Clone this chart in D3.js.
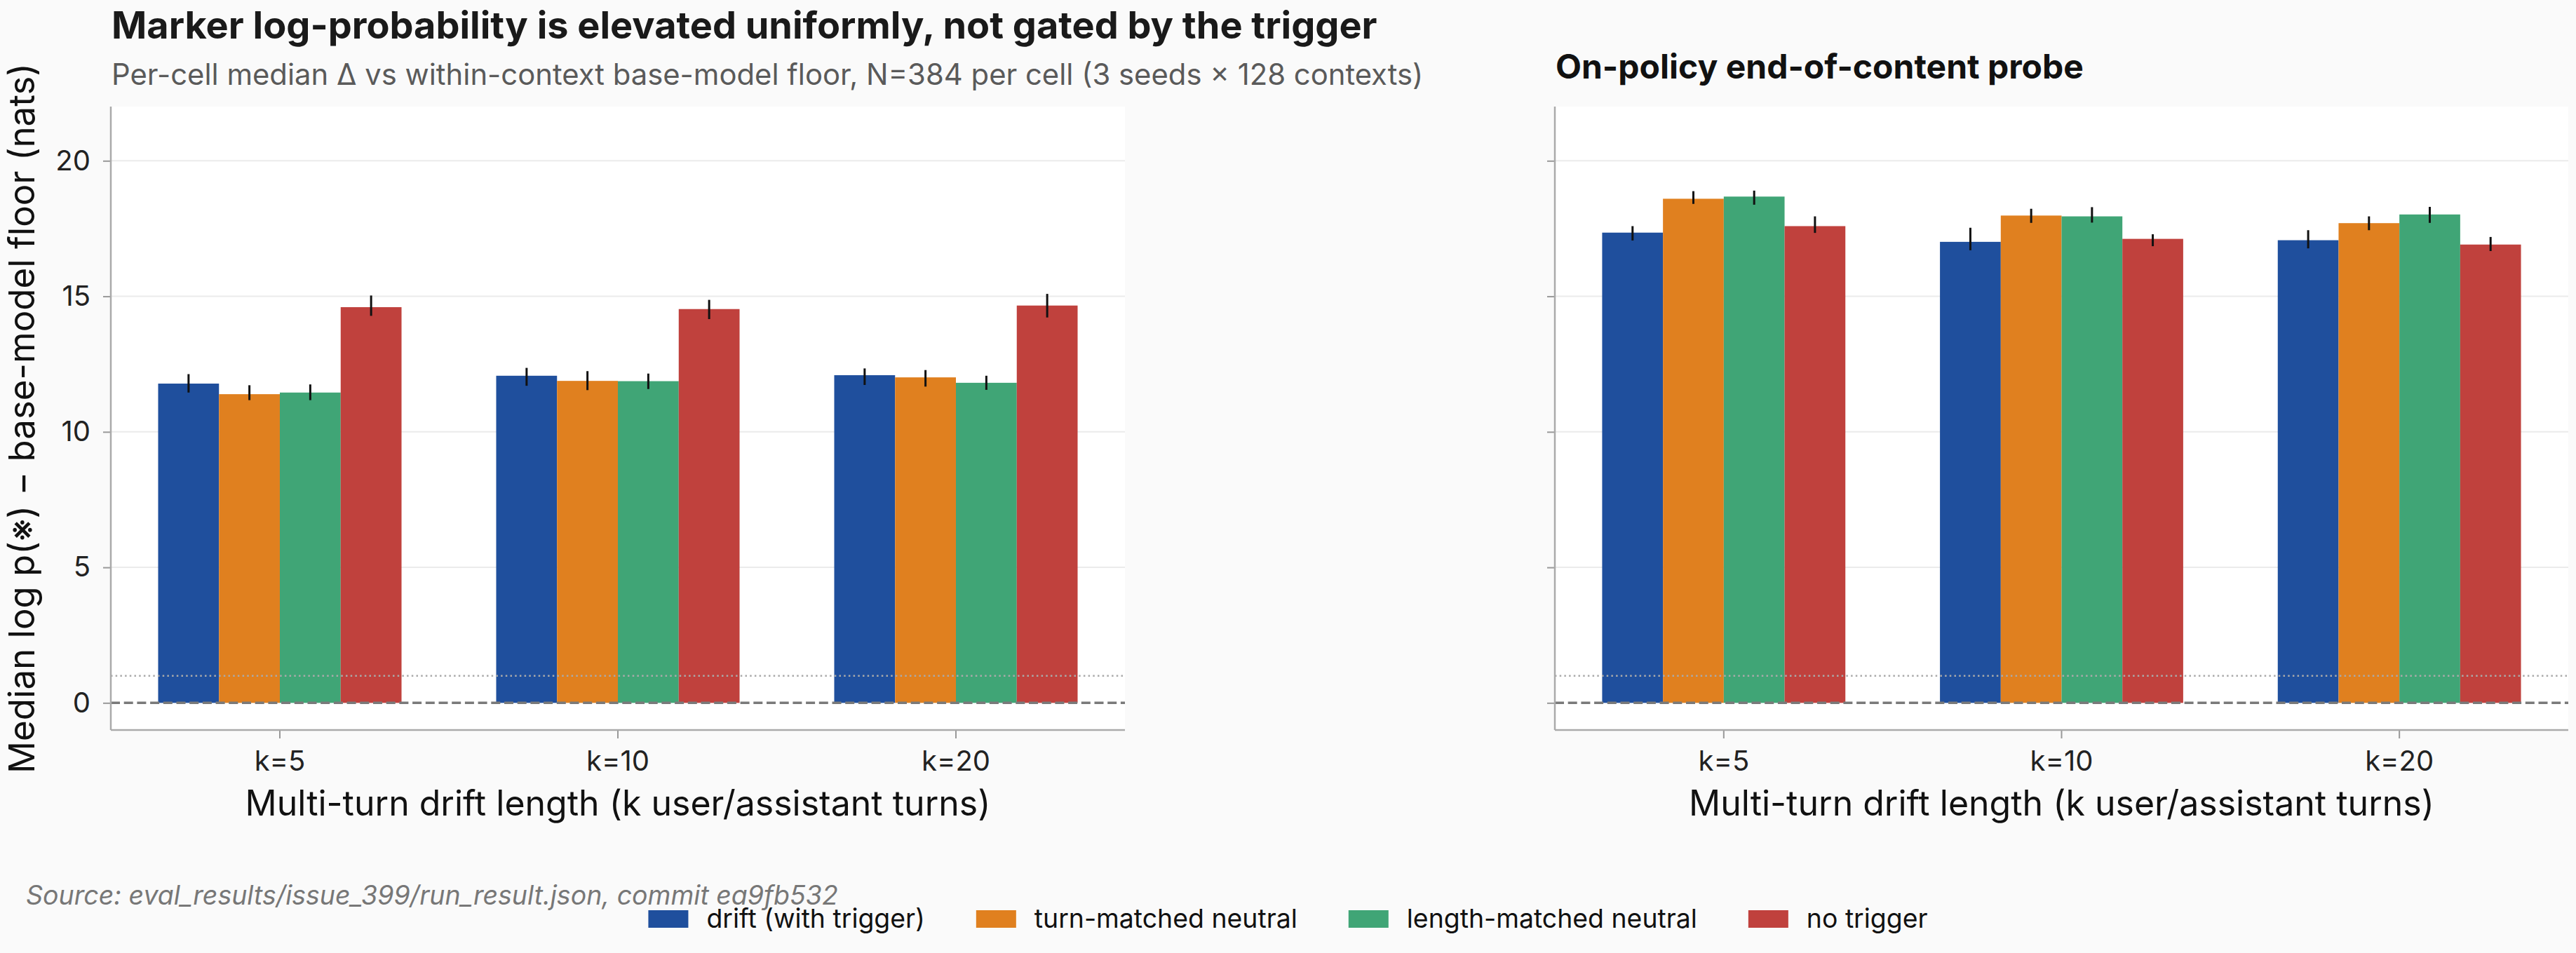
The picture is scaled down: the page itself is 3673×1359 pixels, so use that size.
<!DOCTYPE html>
<html><head><meta charset="utf-8">
<script src="https://cdn.jsdelivr.net/npm/d3@7"></script>
<style>
html,body{margin:0;padding:0;background:#fafafa;}
svg{display:block;font-family:Inter,"Noto Sans",sans-serif;}
</style>
</head><body>
<svg id="chart" width="3673" height="1359"></svg>
<script>
// ---------------- data ----------------
const categories = ["k=5", "k=10", "k=20"];
const seriesNames = ["drift (with trigger)", "turn-matched neutral", "length-matched neutral", "no trigger"];
const seriesColors = ["#1f4f9d", "#e0801f", "#40a576", "#c0413d"];
const yTickValues = [0, 5, 10, 15, 20];

// left panel: median per [series][category], with CI low / high
const leftMedian = [[11.78, 12.07, 12.09], [11.39, 11.88, 12.01], [11.45, 11.87, 11.81], [14.60, 14.53, 14.66]];
const leftLow    = [[11.45, 11.70, 11.73], [11.17, 11.54, 11.67], [11.17, 11.58, 11.55], [14.28, 14.16, 14.22]];
const leftHigh   = [[12.13, 12.36, 12.34], [11.72, 12.24, 12.28], [11.75, 12.15, 12.07], [15.03, 14.87, 15.09]];

// right panel (on-policy end-of-content probe)
const rightMedian = [[17.35, 17.01, 17.07], [18.60, 17.98, 17.70], [18.68, 17.95, 18.02], [17.59, 17.12, 16.91]];
const rightLow    = [[17.06, 16.70, 16.77], [18.41, 17.71, 17.44], [18.38, 17.72, 17.71], [17.34, 16.85, 16.67]];
const rightHigh   = [[17.59, 17.53, 17.44], [18.88, 18.23, 17.95], [18.90, 18.29, 18.30], [17.95, 17.29, 17.19]];

const zeroLine = 0;
const floorThreshold = 1;
const yDomain = [-1, 22];

const titleText = "Marker log-probability is elevated uniformly, not gated by the trigger";
const subtitleText = "Per-cell median \u0394 vs within-context base-model floor, N=384 per cell (3 seeds \u00d7 128 contexts)";
const rightTitleText = "On-policy end-of-content probe";
const yLabelText = "Median log p(\u203b) \u2212 base-model floor (nats)";
const xLabelText = "Multi-turn drift length (k user/assistant turns)";
const sourceText = "Source: eval_results/issue_399/run_result.json, commit ea9fb532";

// ---------------- layout ----------------
const svg = d3.select("#chart");
const W = 3673, H = 1359;
const plotTop = 152, plotBottom = 1041;
const panels = [
  {x0: 158, x1: 1604, median: leftMedian, low: leftLow, high: leftHigh, labels: true},
  {x0: 2217, x1: 3662, median: rightMedian, low: rightLow, high: rightHigh, labels: false}
];

const y = d3.scaleLinear().domain(yDomain).range([plotBottom, plotTop]);

panels.forEach(p => {
  const g = svg.append("g");
  const x0 = d3.scaleBand().domain(categories).range([p.x0, p.x1]).paddingInner(0.28).paddingOuter(0.14);
  const x1 = d3.scaleBand().domain(seriesNames).range([0, x0.bandwidth()]).padding(0);

  // background
  g.append("rect").attr("x", p.x0).attr("y", plotTop).attr("width", p.x1 - p.x0).attr("height", plotBottom - plotTop).attr("fill", "#ffffff");

  // gridlines
  g.append("g").selectAll("line").data(yTickValues.filter(v => v !== 0)).join("line")
    .attr("x1", p.x0).attr("x2", p.x1).attr("y1", d => y(d)).attr("y2", d => y(d))
    .attr("stroke", "#ebebeb").attr("stroke-width", 2);

  // bars
  const cells = [];
  seriesNames.forEach((s, si) => categories.forEach((c, ci) => {
    cells.push({s, c, si, v: p.median[si][ci], lo: p.low[si][ci], hi: p.high[si][ci]});
  }));
  g.append("g").selectAll("rect").data(cells).join("rect")
    .attr("x", d => x0(d.c) + x1(d.s))
    .attr("width", x1.bandwidth())
    .attr("y", d => y(d.v))
    .attr("height", d => y(0) - y(d.v))
    .attr("fill", d => seriesColors[d.si]);

  // reference lines
  g.append("line").attr("x1", p.x0).attr("x2", p.x1).attr("y1", y(floorThreshold)).attr("y2", y(floorThreshold))
    .attr("stroke", "#aaaaaa").attr("stroke-width", 2.5).attr("stroke-dasharray", "2.5,4.2");
  g.append("line").attr("x1", p.x0).attr("x2", p.x1).attr("y1", y(zeroLine)).attr("y2", y(zeroLine))
    .attr("stroke", "#7a7a7a").attr("stroke-width", 3.5).attr("stroke-dasharray", "13,5.7");

  // error bars
  g.append("g").selectAll("line").data(cells).join("line")
    .attr("x1", d => x0(d.c) + x1(d.s) + x1.bandwidth() / 2)
    .attr("x2", d => x0(d.c) + x1(d.s) + x1.bandwidth() / 2)
    .attr("y1", d => y(d.lo)).attr("y2", d => y(d.hi))
    .attr("stroke", "#111111").attr("stroke-width", 3);

  // y axis
  const ya = d3.axisLeft(y).tickValues(yTickValues).tickSize(11).tickPadding(18)
    .tickFormat(p.labels ? d3.format("d") : () => "");
  const yg = g.append("g").attr("transform", `translate(${p.x0},0)`).call(ya);
  yg.select(".domain").remove();
  yg.selectAll(".tick line").attr("stroke", "#999999").attr("stroke-width", 2);
  yg.selectAll(".tick text").attr("fill", "#222222").style("font-size", "40px").style("font-family", "Inter");

  // x axis
  const xa = d3.axisBottom(x0).tickSize(12).tickPadding(18);
  const xg = g.append("g").attr("transform", `translate(0,${plotBottom})`).call(xa);
  xg.select(".domain").remove();
  xg.selectAll(".tick line").attr("stroke", "#999999").attr("stroke-width", 2);
  xg.selectAll(".tick text").attr("fill", "#222222").style("font-size", "40px").style("font-family", "Inter");

  // spines
  g.append("line").attr("x1", p.x0).attr("x2", p.x0).attr("y1", plotTop).attr("y2", plotBottom)
    .attr("stroke", "#aaaaaa").attr("stroke-width", 2.5);
  g.append("line").attr("x1", p.x0).attr("x2", p.x1).attr("y1", plotBottom).attr("y2", plotBottom)
    .attr("stroke", "#aaaaaa").attr("stroke-width", 2.5);

  // x label
  g.append("text").attr("x", (p.x0 + p.x1) / 2).attr("y", 1163).attr("text-anchor", "middle")
    .style("font-size", "50px").attr("fill", "#111111").text(xLabelText);
});

// y label
svg.append("text").attr("transform", `translate(49,${(plotTop + plotBottom) / 2}) rotate(-90)`)
  .attr("text-anchor", "middle").style("font-size", "51px").attr("fill", "#111111").text(yLabelText);

// titles
svg.append("text").attr("x", 159).attr("y", 55).style("font-size", "54px").style("font-weight", 700)
  .attr("fill", "#1a1a1a").text(titleText);
svg.append("text").attr("x", 159).attr("y", 121).style("font-size", "41.8px")
  .attr("fill", "#5a5a5a").text(subtitleText);
svg.append("text").attr("x", 2218).attr("y", 112).style("font-size", "48px").style("font-weight", 700)
  .attr("fill", "#111111").text(rightTitleText);

// source
svg.append("text").attr("x", 37).attr("y", 1290).style("font-size", "37.5px").style("font-style", "italic")
  .attr("fill", "#777777").text(sourceText);

// legend
const legend = svg.append("g");
const items = legend.selectAll("g").data(seriesNames).join("g");
items.append("rect").attr("width", 57).attr("height", 25).attr("y", -25).attr("fill", (d, i) => seriesColors[i]);
items.append("text").attr("x", 83).attr("y", 0).style("font-size", "37.4px").attr("fill", "#111111").text(d => d);
let cx = 0;
const gap = 73;
items.each(function () {
  const w = this.getBBox().width;
  d3.select(this).attr("data-w", w);
});
const widths = items.nodes().map(n => +n.getAttribute("data-w"));
const total = d3.sum(widths) + gap * (widths.length - 1);
cx = (W - total) / 2;
items.attr("transform", (d, i) => {
  const t = `translate(${cx},1323)`;
  cx += widths[i] + gap;
  return t;
});
</script>
</body></html>
